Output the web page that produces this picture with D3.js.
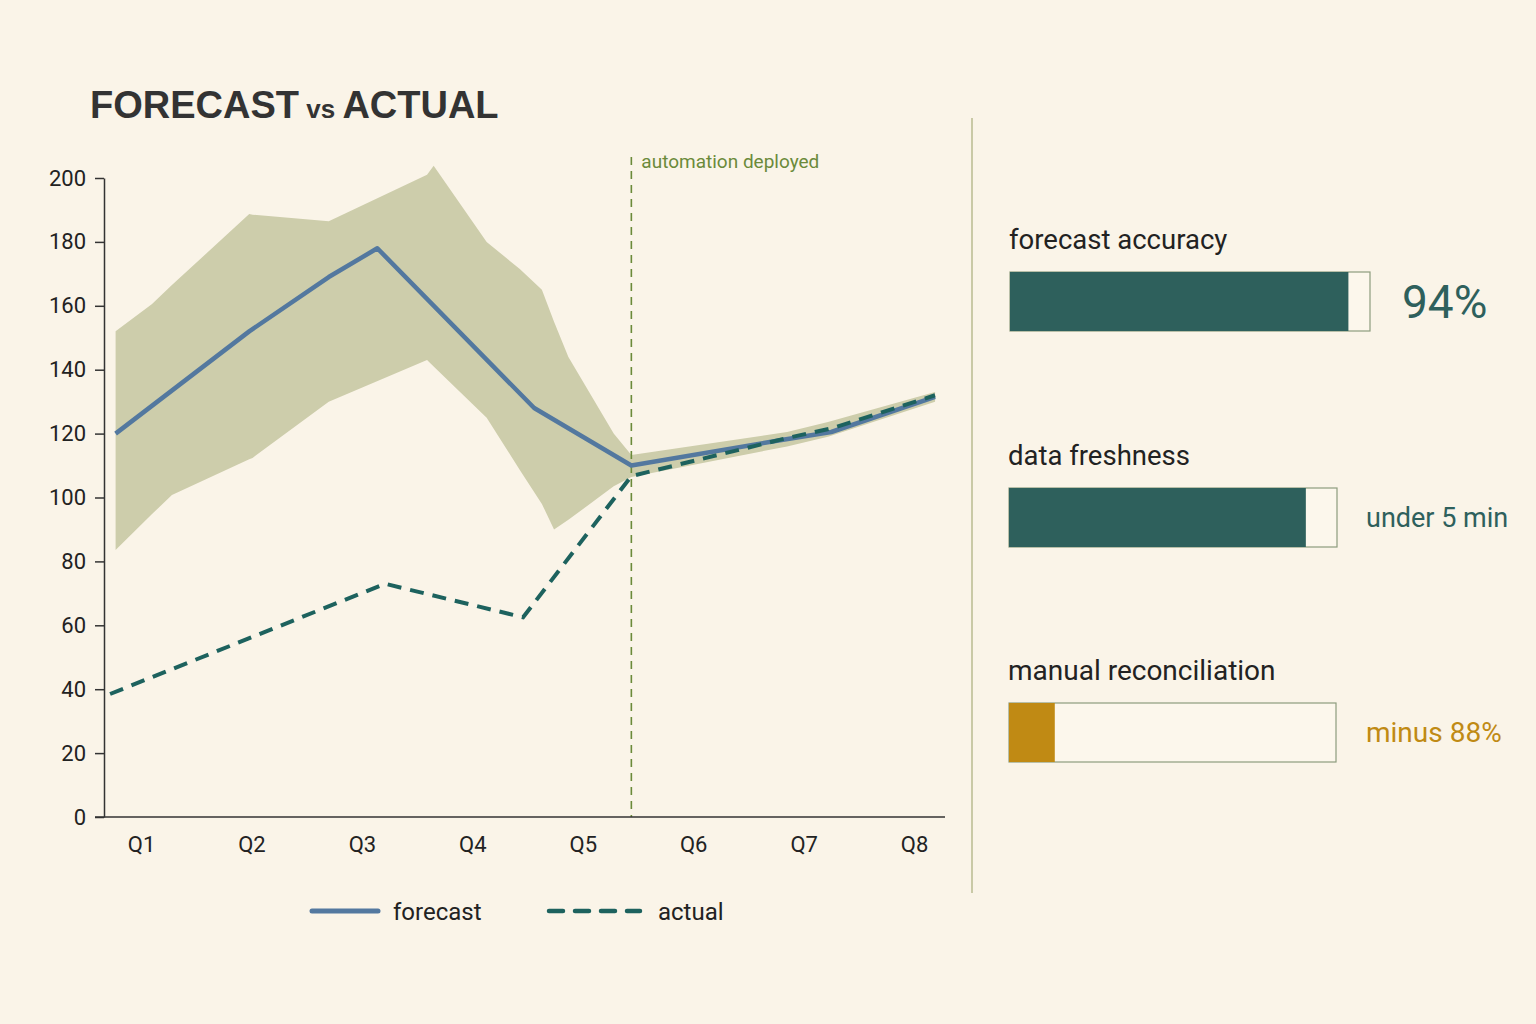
<!DOCTYPE html>
<html>
<head>
<meta charset="utf-8">
<script src="https://cdn.jsdelivr.net/npm/d3@7"></script>
<style>
  html, body { margin: 0; padding: 0; background: #faf4e8; }
  svg { display: block; }
  text { font-family: Roboto, "Noto Sans", sans-serif; }
</style>
</head>
<body>
<svg id="chart" width="1536" height="1024"></svg>
<script>
// ---------- data ----------
const quarterLabels = ["Q1","Q2","Q3","Q4","Q5","Q6","Q7","Q8"];
const yTicks = [0,20,40,60,80,100,120,140,160,180,200];

// positions along x in quarter units (1 = Q1 ... 8 = Q8)
const forecastX = [0.77, 1.98, 2.70, 3.14, 4.56, 5.44, 6.80, 7.25, 8.19];
const forecastY = [120, 152, 169, 178, 128, 110, 118, 120.5, 131.5];

const actualX = [0.72, 3.21, 4.46, 5.44, 6.85, 7.27, 8.19];
const actualY = [38.5, 73, 62.5, 106.7, 118.6, 121.8, 132];

const bandX     = [0.77, 1.10, 1.28, 1.98, 2.01, 2.70, 3.59, 3.65, 4.13, 4.43, 4.63, 4.74, 4.87, 5.28, 5.44, 6.85, 7.22, 8.19];
const bandUpper = [152, 160.6, 166.5, 188.7, 188.5, 186.5, 201, 203.8, 180, 171.5, 165, 155, 144, 120, 113.3, 120.5, 123.6, 133];
const bandLower = [83.6, 94.8, 100.8, 112, 112.4, 130, 143, 141, 125, 108.6, 98, 90, 93, 103.5, 106.4, 116, 119, 130];

const eventX = 5.44;
const eventLabel = "automation deployed";

const kpiLabels = ["forecast accuracy", "data freshness", "manual reconciliation"];
const kpiValues = [0.94, 0.905, 0.14];
const kpiTexts  = ["94%", "under 5 min", "minus 88%"];
const kpiColors = ["#2e605c", "#2e605c", "#c08a14"];

// ---------- layout ----------
const svg = d3.select("#chart");
const W = 1536, H = 1024;
svg.append("rect").attr("width", W).attr("height", H).attr("fill", "#faf4e8");

const plot = { left: 104, right: 945, top: 178, bottom: 817 };

const x = d3.scaleLinear().domain([0.665, 8.28]).range([plot.left, plot.right]);
const y = d3.scaleLinear().domain([0, 200]).range([plot.bottom, plot.top]);

// title
const title = svg.append("text").attr("x", 90).attr("y", 118)
  .attr("fill", "#333").attr("font-weight", 700)
  .style("font-family", "'Liberation Sans', Arial, sans-serif");
title.append("tspan").attr("font-size", 38).text("FORECAST");
title.append("tspan").attr("font-size", 26).text(" vs ");
title.append("tspan").attr("font-size", 38).text("ACTUAL");

// band
const bandData = bandX.map((v, i) => ({ x: v, lo: bandLower[i], hi: bandUpper[i] }));
svg.append("path")
  .datum(bandData)
  .attr("fill", "#cdcdab")
  .attr("d", d3.area().x(d => x(d.x)).y0(d => y(d.lo)).y1(d => y(d.hi)));

// event line
svg.append("line")
  .attr("x1", x(eventX)).attr("x2", x(eventX))
  .attr("y1", 157).attr("y2", plot.bottom)
  .attr("stroke", "#6b8a3a").attr("stroke-width", 1.6)
  .attr("stroke-dasharray", "8,6");
svg.append("text")
  .attr("x", x(eventX) + 10).attr("y", 168)
  .attr("fill", "#6b8a3a").attr("font-size", 19)
  .text(eventLabel);

// forecast line
const fData = forecastX.map((v, i) => ({ x: v, y: forecastY[i] }));
svg.append("path").datum(fData)
  .attr("fill", "none").attr("stroke", "#53789f").attr("stroke-width", 4.5)
  .attr("stroke-linejoin", "round")
  .attr("d", d3.line().x(d => x(d.x)).y(d => y(d.y)));

// actual line
const aData = actualX.map((v, i) => ({ x: v, y: actualY[i] }));
svg.append("path").datum(aData)
  .attr("fill", "none").attr("stroke", "#1d625e").attr("stroke-width", 4)
  .attr("stroke-dasharray", "14,9")
  .attr("d", d3.line().x(d => x(d.x)).y(d => y(d.y)));

// y axis
const yAxis = svg.append("g").attr("transform", `translate(${plot.left},0)`)
  .call(d3.axisLeft(y).tickValues(yTicks).tickSize(9).tickPadding(9).tickSizeOuter(0));
yAxis.select(".domain").attr("stroke", "#333").attr("stroke-width", 1.5);
yAxis.selectAll(".tick line").attr("stroke", "#333").attr("stroke-width", 1.5);
yAxis.selectAll(".tick text").attr("font-size", 22).attr("fill", "#222")
  .style("font-family", "Roboto, sans-serif");

// x axis
const xAxis = svg.append("g").attr("transform", `translate(0,${plot.bottom})`)
  .call(d3.axisBottom(x).tickValues(d3.range(1, 9)).tickFormat(d => quarterLabels[d - 1])
    .tickSize(0).tickPadding(19).tickSizeOuter(0));
xAxis.select(".domain").attr("stroke", "#333").attr("stroke-width", 1.5)
  .attr("d", `M${plot.left - 9},0H${plot.right}`);
xAxis.selectAll(".tick text").attr("font-size", 22).attr("fill", "#222")
  .style("font-family", "Roboto, sans-serif");

// legend
const leg = svg.append("g");
leg.append("line").attr("x1", 312).attr("x2", 378).attr("y1", 911).attr("y2", 911)
  .attr("stroke", "#53789f").attr("stroke-width", 5).attr("stroke-linecap", "round");
leg.append("text").attr("x", 393).attr("y", 920).attr("font-size", 24).attr("fill", "#222").text("forecast");
leg.append("line").attr("x1", 549).attr("x2", 640).attr("y1", 911).attr("y2", 911)
  .attr("stroke", "#1d625e").attr("stroke-width", 4.5).attr("stroke-linecap", "round")
  .attr("stroke-dasharray", "14,12");
leg.append("text").attr("x", 658).attr("y", 920).attr("font-size", 24).attr("fill", "#222").text("actual");

// divider
svg.append("line").attr("x1", 972).attr("x2", 972).attr("y1", 118).attr("y2", 893)
  .attr("stroke", "#b9bb90").attr("stroke-width", 1.5);

// KPI panel
const kpiTop = [272, 488, 703];
const kpiLeft = [1010, 1009, 1009];
const kpiWidth = [360, 328, 327];
const kpiTextX = [1402, 1366, 1366];
const kpiTextSize = [46, 27, 28];
const kpiTextDy = [46, 39, 39];
const kpiLabelSize = [27.5, 27.5, 28];
const barH = 59;

kpiLabels.forEach((lab, i) => {
  const g = svg.append("g");
  const bx = d3.scaleLinear().domain([0, 1]).range([kpiLeft[i], kpiLeft[i] + kpiWidth[i]]);
  g.append("text").attr("x", kpiLeft[i] - 1).attr("y", kpiTop[i] - 23)
    .attr("font-size", kpiLabelSize[i]).attr("fill", "#222").text(lab);
  g.append("rect").attr("x", bx(0)).attr("y", kpiTop[i]).attr("width", bx(1) - bx(0)).attr("height", barH)
    .attr("fill", "#fcf7ec").attr("stroke", "#8d9c7e").attr("stroke-width", 1.2);
  g.append("rect").attr("x", bx(0)).attr("y", kpiTop[i]).attr("width", bx(kpiValues[i]) - bx(0)).attr("height", barH)
    .attr("fill", kpiColors[i]);
  g.append("text").attr("x", kpiTextX[i]).attr("y", kpiTop[i] + kpiTextDy[i])
    .attr("font-size", kpiTextSize[i]).attr("fill", kpiColors[i]).text(kpiTexts[i]);
});
</script>
</body>
</html>
